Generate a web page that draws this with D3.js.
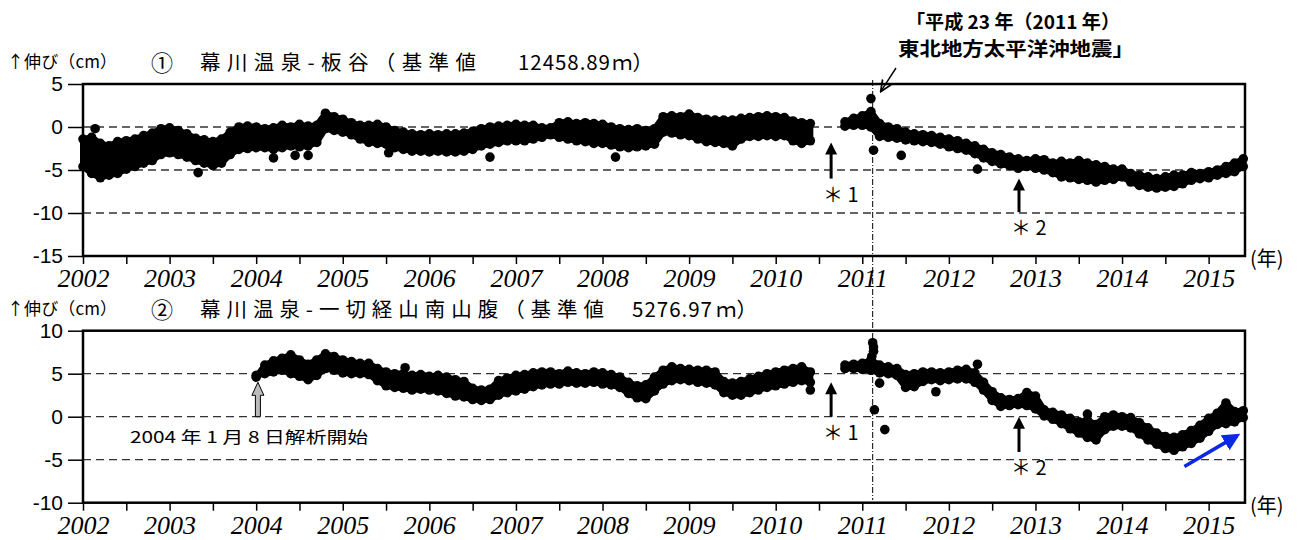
<!DOCTYPE html>
<html>
<head>
<meta charset="utf-8">
<script src="https://cdn.jsdelivr.net/npm/d3@7"></script>
<style>
  body { margin: 0; background: #fff; }
  svg { display: block; }
</style>
</head>
<body>
<svg id="chart" width="1303" height="540"></svg>
<script>
// ---- data -----------------------------------------------------------
// Baseline length change (cm), daily solutions summarised every 0.1 year
// as the highest and lowest daily value within each interval (null = no data).
const sampleStep = 0.1;

const yearTicks = [2002, 2003, 2004, 2005, 2006, 2007, 2008, 2009, 2010, 2011, 2012, 2013, 2014, 2015];
const halfYearTicks = [2002.5, 2003.5, 2004.5, 2005.5, 2006.5, 2007.5, 2008.5, 2009.5, 2010.5, 2011.5, 2012.5, 2013.5, 2014.5];

// (1) 幕川温泉-板谷
const p1Start = 2002.0;
const p1Upper = [
  -1.4, -1.2, -1.9, -2.2, -1.7, -1.6, -1.4, -1.0, -0.7, -0.2,   // 2002
  -0.1, -0.4, -0.8, -1.3, -1.5, -1.7, -1.4, -0.6, 0.0, 0.1,     // 2003
  0.0, -0.2, -0.1, 0.2, 0.0, 0.3, 0.1, 0.2, 1.6, 1.2,           // 2004
  0.9, 0.5, 0.2, 0.2, 0.3, 0.0, -0.4, -0.6, -0.8, -0.9,         // 2005
  -0.8, -0.9, -0.8, -0.8, -0.7, -0.5, -0.2, 0.0, 0.1, 0.2,      // 2006
  0.3, 0.2, 0.2, -0.1, -0.1, 0.5, 0.6, 0.4, 0.5, 0.4,           // 2007
  0.3, 0.0, -0.2, -0.3, -0.2, -0.4, -0.2, 1.2, 1.3, 1.2,        // 2008
  1.5, 1.1, 0.9, 0.8, 0.8, 0.8, 1.0, 1.1, 1.2, 1.3,             // 2009
  1.2, 1.1, 0.7, 0.5, 0.4, null, null, null, 0.6, 1.0,          // 2010
  1.3, 1.8, 0.4, 0.0, -0.2, -0.6, -0.8, -0.9, -1.0, -1.2,       // 2011
  -1.4, -1.6, -1.9, -2.2, -2.6, -3.0, -3.2, -3.5, -3.7, -3.9,   // 2012
  -3.7, -3.8, -4.2, -4.0, -4.2, -3.9, -4.2, -4.4, -4.6, -4.9,   // 2013
  -4.9, -5.4, -5.6, -5.8, -6.0, -5.8, -5.6, -5.6, -5.3, -5.4,   // 2014
  -5.2, -5.0, -4.6, -4.2, -3.7                                  // 2015
];
const p1Lower = [
  -4.6, -5.4, -5.9, -5.6, -5.4, -4.9, -4.6, -4.2, -3.9, -3.2,
  -3.0, -3.2, -3.5, -3.9, -4.2, -4.5, -4.2, -3.2, -2.6, -2.5,
  -2.4, -2.4, -2.6, -2.4, -2.2, -2.3, -2.2, -1.8, -0.2, -0.4,
  -0.6, -0.9, -1.4, -1.8, -1.9, -2.0, -2.4, -2.6, -2.8, -2.8,
  -2.9, -2.8, -2.9, -2.9, -2.8, -2.6, -2.2, -2.0, -1.8, -1.6,
  -1.6, -1.6, -1.4, -1.2, -0.9, -1.2, -1.4, -1.6, -1.7, -1.9,
  -1.9, -2.1, -2.3, -2.4, -2.3, -2.2, -2.0, -0.6, -0.7, -0.9,
  -1.0, -1.4, -1.7, -1.8, -1.9, -2.2, -1.4, -1.1, -1.1, -1.0,
  -1.1, -1.0, -1.6, -1.9, -1.6, null, null, null, 0.1, 0.2,
  0.2, 0.0, -1.1, -1.2, -1.3, -1.5, -1.6, -1.7, -1.8, -2.0,
  -2.3, -2.5, -2.7, -3.1, -3.6, -4.0, -4.3, -4.5, -4.8, -4.6,
  -4.8, -5.0, -5.3, -5.8, -5.9, -6.1, -6.2, -6.4, -6.2, -6.1,
  -5.8, -6.4, -6.8, -7.0, -7.1, -7.0, -6.9, -6.6, -6.2, -6.0,
  -5.9, -5.6, -5.4, -5.2, -4.6
];
const p1Outliers = [
  [2002.14, -0.2], [2003.33, -5.3], [2004.2, -3.6], [2004.45, -3.3], [2004.6, -3.3],
  [2005.53, -3.0], [2006.7, -3.5], [2008.15, -3.5], [2011.1, 3.3], [2011.13, -2.7],
  [2011.45, -3.3], [2012.33, -4.9]
];

// (2) 幕川温泉-一切経山南山腹 (analysis from 2004-01-08)
const p2Start = 2004.0;
const p2Upper = [
  4.6, 6.0, 6.5, 6.8, 7.2, 6.6, 6.1, 6.6, 7.3, 7.0,             // 2004
  6.6, 6.4, 6.2, 6.2, 5.6, 5.2, 5.0, 5.0, 4.8, 4.9,             // 2005
  4.7, 4.8, 4.6, 4.3, 4.1, 3.3, 3.1, 3.2, 4.2, 4.5,             // 2006
  4.8, 4.9, 5.1, 5.2, 5.2, 5.0, 5.3, 5.1, 5.0, 5.2,             // 2007
  5.1, 4.9, 4.6, 4.0, 3.6, 3.7, 4.6, 5.4, 5.8, 5.6,             // 2008
  5.5, 5.4, 5.4, 5.2, 4.1, 3.9, 4.1, 4.4, 4.7, 5.0,             // 2009
  5.2, 5.4, 5.6, 5.8, 5.2, null, null, null, 6.0, 6.1,          // 2010
  6.2, 6.6, 6.0, 5.8, 5.6, 4.9, 5.0, 5.2, 5.2, 5.1,             // 2011
  5.2, 5.4, 5.5, 5.1, 4.0, 2.9, 2.2, 2.0, 2.1, 2.8,             // 2012
  2.4, 0.8, 0.5, 0.2, -0.2, -0.6, -0.4, -0.9, 0.0, 0.2,         // 2013
  0.0, -0.1, -0.7, -1.3, -1.9, -2.3, -2.4, -2.1, -1.6, -1.0,    // 2014
  -0.2, 0.4, 1.6, 0.6, 0.7                                      // 2015
];
const p2Lower = [
  4.8, 5.0, 5.2, 5.4, 5.0, 4.7, 4.3, 4.8, 5.6, 5.4,
  5.1, 5.0, 5.0, 4.9, 4.2, 3.6, 3.4, 3.3, 3.1, 3.2,
  3.1, 3.0, 2.7, 2.4, 2.3, 2.0, 1.9, 2.0, 2.5, 2.8,
  3.0, 3.2, 3.5, 3.7, 3.8, 3.8, 4.0, 3.9, 3.9, 4.0,
  3.8, 3.7, 3.4, 2.7, 2.2, 2.1, 3.0, 3.8, 4.2, 4.3,
  4.2, 4.0, 3.9, 3.7, 2.8, 2.5, 2.5, 2.8, 3.1, 3.4,
  3.6, 3.8, 4.0, 4.2, 4.0, null, null, null, 5.6, 5.6,
  5.5, 5.4, 5.1, 5.0, 4.8, 3.4, 3.5, 4.1, 4.3, 4.2,
  4.3, 4.4, 4.4, 4.0, 3.1, 1.9, 1.2, 1.3, 1.4, 1.3,
  0.9, 0.1, -0.3, -0.8, -1.4, -1.9, -2.4, -2.7, -1.5, -1.1,
  -1.1, -1.3, -2.0, -2.7, -3.2, -3.7, -3.9, -3.5, -3.1, -2.5,
  -1.7, -0.9, -0.8, -0.6, -0.1
];
const p2Outliers = [
  [2005.72, 5.7], [2010.4, 3.1], [2011.11, 7.0], [2011.12, 8.6], [2011.13, 8.1], [2011.13, 7.6],
  [2011.2, 3.9], [2011.14, 0.8], [2011.26, -1.5], [2011.85, 2.9], [2012.33, 6.1], [2013.6, 0.3]
];

const p1YTicks = [5, 0, -5, -10, -15];
const p2YTicks = [10, 5, 0, -5, -10];

const quakeYear = 2011.12;      // 2011-03-11 main shock
const note1Year = 2010.64;      // ＊1
const note2Year = 2012.81;      // ＊2
const analysisStartYear = 2004.02;

// ---- drawing ---------------------------------------------------------
const svg = d3.select('#chart');
const left = 83, right = 1245;
const x = d3.scaleLinear().domain([2002, 2015.42]).range([left, right]);

const jpFont = '"Noto Sans CJK JP", "Noto Sans", sans-serif';
const defs = svg.append('defs');

defs.append('marker')
  .attr('id', 'openHead').attr('viewBox', '0 0 10 10').attr('refX', 9).attr('refY', 5)
  .attr('markerWidth', 9).attr('markerHeight', 9).attr('orient', 'auto')
  .append('path').attr('d', 'M0,1 L9,5 L0,9').attr('fill', 'none').attr('stroke', '#000').attr('stroke-width', 1.4);

defs.append('marker')
  .attr('id', 'blueHead').attr('viewBox', '0 0 10 10').attr('refX', 8).attr('refY', 5)
  .attr('markerWidth', 5).attr('markerHeight', 5).attr('orient', 'auto')
  .append('path').attr('d', 'M0,0 L10,5 L0,10 Z').attr('fill', '#0a28e6');

function drawPanel(cfg) {
  const y = d3.scaleLinear().domain(cfg.domain).range([cfg.bottom, cfg.top]);
  const g = svg.append('g');

  // dashed reference lines at the inner ticks
  g.selectAll('line.grid')
    .data(cfg.ticks.filter(v => v !== cfg.domain[0] && v !== cfg.domain[1]))
    .join('line')
    .attr('x1', left).attr('x2', right)
    .attr('y1', d => y(d)).attr('y2', d => y(d))
    .attr('stroke', '#333').attr('stroke-width', 1.3).attr('stroke-dasharray', '8,5');

  // daily solutions: band between extremes, edged with dot marks
  const rows = cfg.upper.map((u, i) => ({ t: cfg.start + i * sampleStep, u: u, l: cfg.lower[i] }));
  const band = d3.area().defined(d => d.u != null)
    .x(d => x(d.t)).y0(d => y(d.l)).y1(d => y(d.u));
  g.append('path').attr('d', band(rows))
    .attr('fill', '#000').attr('stroke', '#000').attr('stroke-width', 6).attr('stroke-linejoin', 'round');

  const pts = rows.filter(d => d.u != null)
    .flatMap(d => [[d.t, d.u], [d.t, d.l]])
    .concat(cfg.outliers);
  g.selectAll('circle.pt').data(pts).join('circle')
    .attr('cx', d => x(d[0])).attr('cy', d => y(d[1])).attr('r', 4.8).attr('fill', '#000');

  // frame
  g.append('rect').attr('x', left).attr('y', cfg.top)
    .attr('width', right - left).attr('height', cfg.bottom - cfg.top)
    .attr('fill', 'none').attr('stroke', '#000').attr('stroke-width', 2.5);

  // y axis
  const ya = g.append('g').attr('transform', `translate(${left},0)`)
    .call(d3.axisLeft(y).tickValues(cfg.ticks).tickSize(15).tickPadding(5).tickFormat(d => String(d)));
  ya.select('.domain').remove();
  ya.selectAll('line').attr('stroke', '#000').attr('stroke-width', 1.5);
  ya.selectAll('text').attr('font-family', 'Liberation Sans, Arial, sans-serif')
    .attr('font-size', 21).attr('fill', '#000');

  // x axis
  const xa = g.append('g').attr('transform', `translate(0,${cfg.bottom})`)
    .call(d3.axisBottom(x).tickValues(yearTicks).tickSize(8).tickPadding(5).tickFormat(d3.format('d')));
  xa.select('.domain').remove();
  xa.selectAll('line').attr('stroke', '#000').attr('stroke-width', 1.5);
  xa.selectAll('text').attr('font-family', 'Liberation Serif, Times New Roman, serif')
    .attr('font-style', 'italic').attr('font-size', 26).attr('fill', '#000');
  const xm = g.append('g').attr('transform', `translate(0,${cfg.bottom})`)
    .call(d3.axisBottom(x).tickValues(halfYearTicks).tickSize(8).tickFormat(''));
  xm.select('.domain').remove();
  xm.selectAll('line').attr('stroke', '#000').attr('stroke-width', 1.5);

  // year unit label
  g.append('text').attr('x', right + 5).attr('y', cfg.bottom + 10)
    .attr('font-family', jpFont).attr('font-size', 20).text('(年)');

  // axis caption and panel title (name, baseline length, unit)
  g.append('text').attr('x', 7).attr('y', cfg.top - 16)
    .attr('font-family', jpFont).attr('font-size', 17)
    .attr('textLength', 110).attr('lengthAdjust', 'spacing').text('↑伸び（cm）');
  g.append('text').attr('x', 151).attr('y', cfg.top - 13)
    .attr('font-family', jpFont).attr('font-size', 22).text(cfg.mark);
  cfg.titleParts.forEach(p => {
    const t = g.append('text').attr('x', p.x).attr('y', cfg.top - 14)
      .attr('font-family', jpFont).attr('font-size', 20.5).text(p.text);
    if (p.len) t.attr('textLength', p.len).attr('lengthAdjust', 'spacing');
  });

  // up arrows for the notes
  cfg.notes.forEach(n => {
    const ax = x(n.year);
    g.append('line').attr('x1', ax).attr('x2', ax).attr('y1', y(n.from)).attr('y2', y(n.to) + 8)
      .attr('stroke', '#000').attr('stroke-width', 3);
    g.append('path')
      .attr('d', `M${ax},${y(n.to)} L${ax - 6},${y(n.to) + 12} L${ax + 6},${y(n.to) + 12} Z`)
      .attr('fill', '#000');
    g.append('text').attr('x', ax - 8).attr('y', y(n.from) + 23)
      .attr('font-family', jpFont).attr('font-size', 20).text(n.label);
  });
  return y;
}

const y1 = drawPanel({
  top: 84, bottom: 256, domain: [-15, 5], ticks: p1YTicks,
  start: p1Start, upper: p1Upper, lower: p1Lower, outliers: p1Outliers,
  mark: '①',
  titleParts: [
    { text: '幕川温泉-板谷（基準値', x: 200, len: 276 },
    { text: '12458.89', x: 518, len: 92 },
    { text: 'ｍ）', x: 612 }
  ],
  notes: [
    { year: note1Year, from: -6.0, to: -1.8, label: '＊ 1' },
    { year: note2Year, from: -9.9, to: -6.0, label: '＊ 2' }
  ]
});

const y2 = drawPanel({
  top: 330.7, bottom: 502.7, domain: [-10, 10], ticks: p2YTicks,
  start: p2Start, upper: p2Upper, lower: p2Lower, outliers: p2Outliers,
  mark: '②',
  titleParts: [
    { text: '幕川温泉-一切経山南山腹（基準値', x: 200, len: 404 },
    { text: '5276.97', x: 632, len: 80 },
    { text: 'ｍ）', x: 716 }
  ],
  notes: [
    { year: note1Year, from: 0, to: 4.0, label: '＊ 1' },
    { year: note2Year, from: -4.1, to: 0, label: '＊ 2' }
  ]
});

// earthquake marker line across both panels
const qx = x(quakeYear);
svg.append('line').attr('x1', qx).attr('x2', qx).attr('y1', 80).attr('y2', 500)
  .attr('stroke', '#000').attr('stroke-width', 1).attr('stroke-dasharray', '6,2,1,2');

svg.append('text').attr('x', 1013).attr('y', 29).attr('text-anchor', 'middle')
  .attr('font-family', jpFont).attr('font-weight', 'bold').attr('font-size', 19)
  .attr('textLength', 214).attr('lengthAdjust', 'spacingAndGlyphs')
  .text('「平成 23 年（2011 年）');
svg.append('text').attr('x', 1016).attr('y', 56).attr('text-anchor', 'middle')
  .attr('font-family', jpFont).attr('font-weight', 'bold').attr('font-size', 19)
  .attr('textLength', 236).attr('lengthAdjust', 'spacingAndGlyphs')
  .text('東北地方太平洋沖地震」');
svg.append('line').attr('x1', 896).attr('y1', 68).attr('x2', qx + 8).attr('y2', y1(3.3) - 7)
  .attr('stroke', '#000').attr('stroke-width', 1.4).attr('marker-end', 'url(#openHead)');

// start of analysis for panel 2
const sx = x(analysisStartYear);
const tipY = y2(4.0), baseY = y2(0);
svg.append('path')
  .attr('d', `M${sx},${tipY} L${sx + 6},${tipY + 13} L${sx + 2.5},${tipY + 13} L${sx + 2.5},${baseY} ` +
             `L${sx - 2.5},${baseY} L${sx - 2.5},${tipY + 13} L${sx - 6},${tipY + 13} Z`)
  .attr('fill', '#bbb').attr('stroke', '#000').attr('stroke-width', 1);
svg.append('text').attr('x', 130).attr('y', 443)
  .attr('font-family', jpFont).attr('font-size', 16)
  .attr('textLength', 238).attr('lengthAdjust', 'spacingAndGlyphs')
  .text('2004 年 1 月 8 日解析開始');

// recent extension trend
svg.append('line').attr('x1', x(2014.72)).attr('y1', y2(-5.8)).attr('x2', x(2015.33)).attr('y2', y2(-2.2))
  .attr('stroke', '#0a28e6').attr('stroke-width', 3.5).attr('marker-end', 'url(#blueHead)');
</script>
</body>
</html>
